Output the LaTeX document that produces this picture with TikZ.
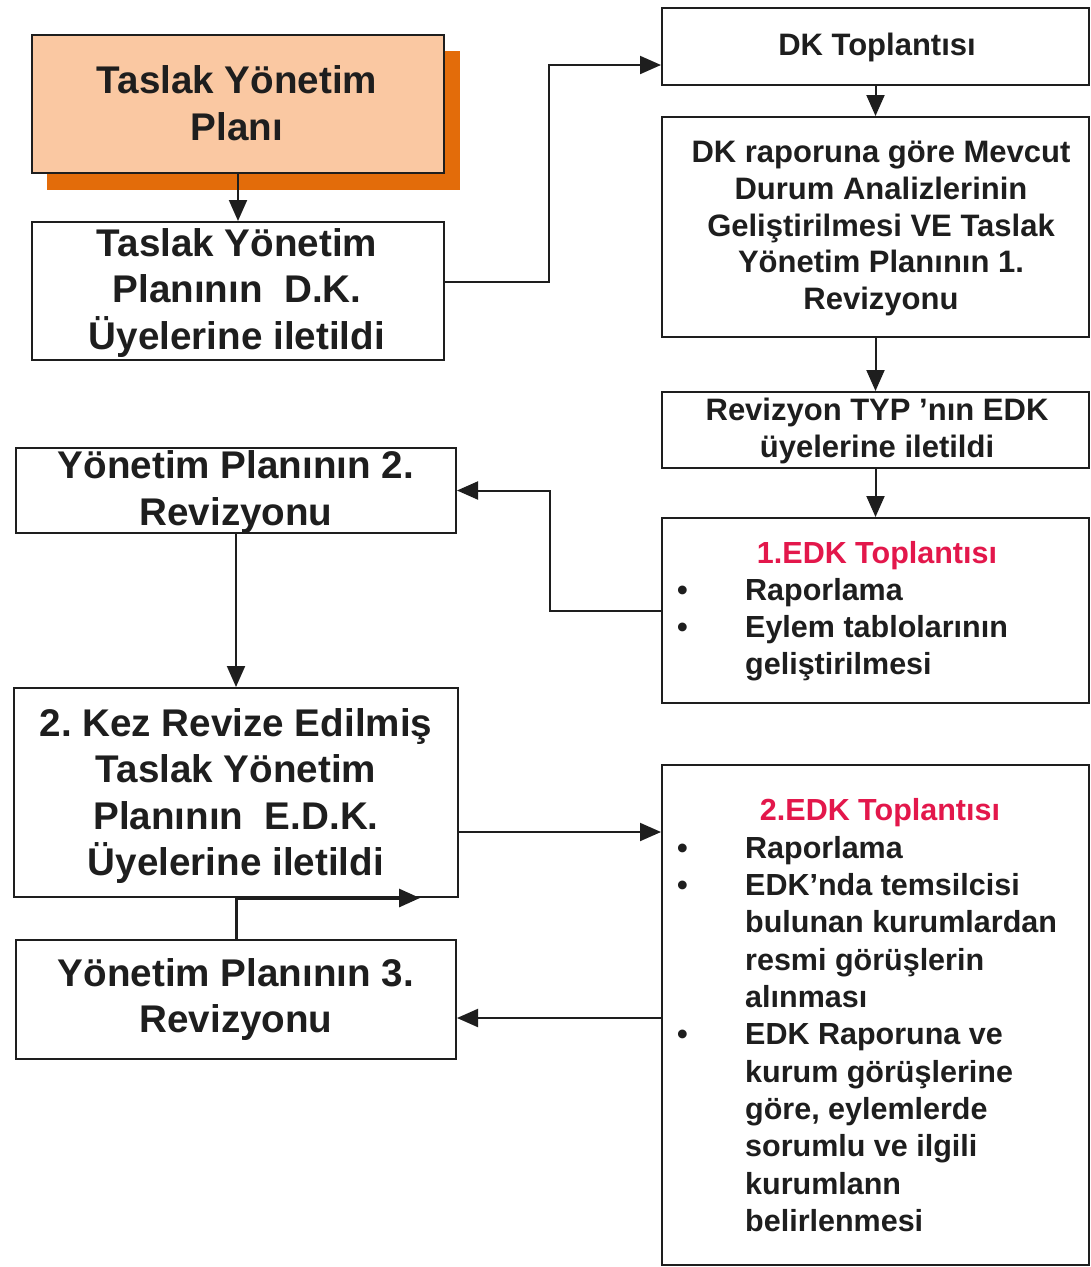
\documentclass[tikz,border=0pt]{standalone}
\usepackage{fontspec}
\setmainfont{Liberation Sans}
\usetikzlibrary{arrows.meta}
\definecolor{peach}{HTML}{FAC8A2}
\definecolor{shadoworange}{HTML}{E36C0A}
\definecolor{edkred}{HTML}{E3174B}
\definecolor{ink}{HTML}{1E1E1E}
\frenchspacing
\begin{document}
\begin{tikzpicture}[x=1pt,y=-1pt,
  box/.style={draw=ink, line width=2pt, rectangle, inner sep=0pt},
  bigtxt/.style={font=\bfseries\fontsize{38.6}{46.5}\selectfont, align=center, inner sep=0pt, text=ink},
  midtxt/.style={font=\bfseries\fontsize{31}{36.6}\selectfont, align=center, inner sep=0pt, text=ink},
  listtxt/.style={font=\bfseries\fontsize{30.5}{37.3}\selectfont, align=left, inner sep=0pt, text=ink},
  redtxt/.style={font=\bfseries\fontsize{30.5}{37}\selectfont, inner sep=0pt, text=edkred},
  conn/.style={draw=ink, line width=2pt},
  arr/.style={conn, -{Triangle[length=21pt,width=18pt]}}
]
\useasboundingbox (0,0) rectangle (1091,1267);
\fill[white] (0,0) rectangle (1091,1267);

% shadow of the first box
\fill[shadoworange] (47,51) rectangle (460,190);

% left column
\node[box, fill=peach, minimum width=412pt, minimum height=138pt] (A) at (238,104) {};
\node[box, fill=white, minimum width=412pt, minimum height=138pt] (B) at (238,291) {};
\node[box, fill=white, minimum width=440pt, minimum height=85pt] (Y2) at (236,490.5) {};
\node[box, fill=white, minimum width=444pt, minimum height=209pt] (K2) at (236,792.5) {};
\node[box, fill=white, minimum width=440pt, minimum height=119pt] (Y3) at (236,999.5) {};

% right column
\node[box, fill=white, minimum width=427pt, minimum height=77pt] (DK) at (875.5,46.5) {};
\node[box, fill=white, minimum width=427pt, minimum height=220pt] (R1) at (875.5,227) {};
\node[box, fill=white, minimum width=427pt, minimum height=76pt] (TYP) at (875.5,430) {};
\node[box, fill=white, minimum width=427pt, minimum height=185pt] (E1) at (875.5,610.5) {};
\node[box, fill=white, minimum width=427pt, minimum height=500pt] (E2) at (875.5,1015) {};

% texts
\node[bigtxt] (tA) at (237,103) {Taslak Yönetim\\Planı};
\node[bigtxt] (tB) at (237,293) {Taslak Yönetim\\Planının\ \ D.K.\\Üyelerine iletildi};
\node[bigtxt] (tY2) at (236,492) {Yönetim Planının 2.\\Revizyonu};
\node[bigtxt] (tK2) at (236,796) {2. Kez Revize Edilmiş\\Taslak Yönetim\\Planının\ \ E.D.K.\\Üyelerine iletildi};
\node[bigtxt] (tY3) at (236,999.5) {Yönetim Planının 3.\\Revizyonu};

\node[midtxt] (tDK) at (877,47) {DK Toplantısı};
\node[midtxt] (tR1) at (881,228.5) {DK raporuna göre Mevcut\\Durum Analizlerinin\\Geliştirilmesi VE Taslak\\Yönetim Planının 1.\\Revizyonu};
\node[midtxt] (tTYP) at (877,431) {Revizyon TYP 'nın EDK\\üyelerine iletildi};

\node[redtxt, anchor=base] (t1) at (877,563) {1.EDK Toplantısı};
\node[listtxt, anchor=north west] (l1) at (677,578) {\makebox[68pt][l]{\textbullet}Raporlama\\
\makebox[68pt][l]{\textbullet}Eylem tablolarının\\
\hspace*{68pt}geliştirilmesi};

\node[redtxt, anchor=base] (t2) at (880,820) {2.EDK Toplantısı};
\node[listtxt, anchor=north west] (l2) at (677,836) {\makebox[68pt][l]{\textbullet}Raporlama\\
\makebox[68pt][l]{\textbullet}EDK'nda temsilcisi\\
\hspace*{68pt}bulunan kurumlardan\\
\hspace*{68pt}resmi görüşlerin\\
\hspace*{68pt}alınması\\
\makebox[68pt][l]{\textbullet}EDK Raporuna ve\\
\hspace*{68pt}kurum görüşlerine\\
\hspace*{68pt}göre, eylemlerde\\
\hspace*{68pt}sorumlu ve ilgili\\
\hspace*{68pt}kurumlann\\
\hspace*{68pt}belirlenmesi};

% connectors
\coordinate (j1) at (549,65);
\coordinate (j2) at (550,550);
\draw[arr] (A.south) -- (B.north);
\draw[arr] ([yshift=9pt]B.east) -| (j1) -- (DK.west |- j1);
\draw[arr] (DK.south) -- (R1.north);
\draw[arr] (R1.south) -- (TYP.north);
\draw[arr] (TYP.south) -- (E1.north);
\draw[arr] (E1.west) -| (j2) |- (Y2.east);
\draw[arr] (Y2.south) -- (K2.north);
\coordinate (k2out) at ([yshift=-39.5pt]K2.east);
\draw[arr] (k2out) -- (k2out -| E2.west);
\draw[arr, line width=3pt] (Y3.north) |- ([xshift=-39pt]K2.south east);
\coordinate (y3in) at ([yshift=-18.5pt]Y3.east);
\draw[arr] (y3in -| E2.west) -- (y3in);
\end{tikzpicture}
\end{document}
